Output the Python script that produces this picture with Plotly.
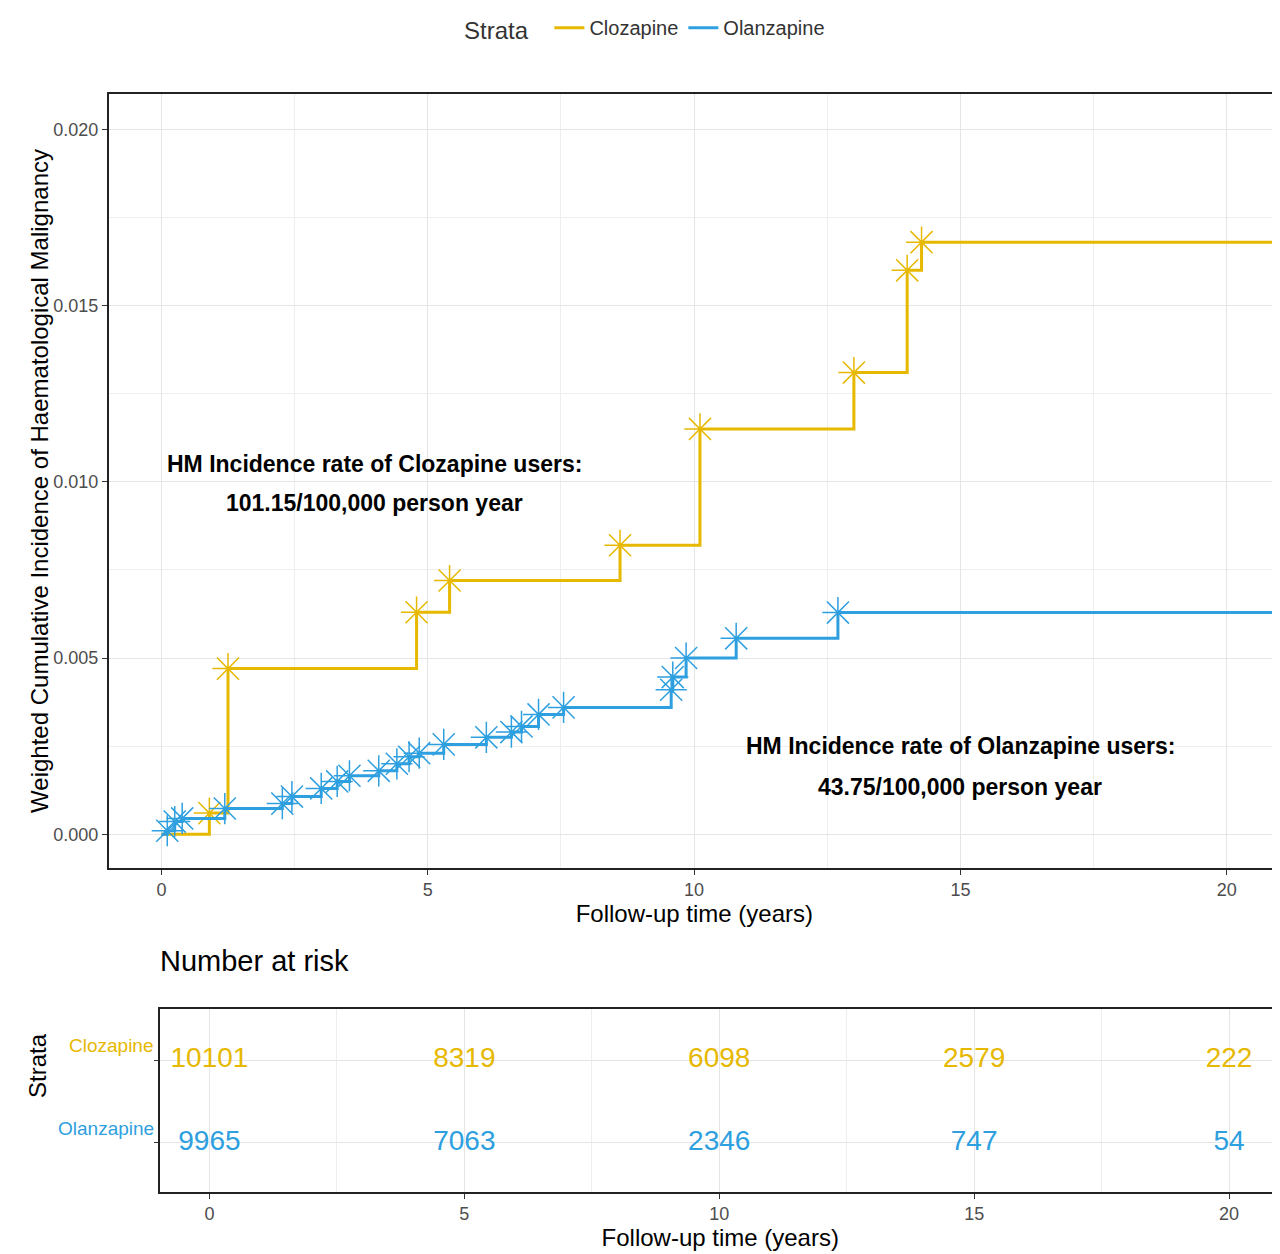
import plotly.graph_objects as go

cloz_t = [0, 0.9, 1.25, 4.79, 5.41, 8.61, 10.11, 13.0, 14.0, 14.27]
cloz_y = [0, 0.0006, 0.0047, 0.0063, 0.0072, 0.0082, 0.0115, 0.0131, 0.0160, 0.0168]
olan_t = [0, 0.11, 0.25, 0.39, 1.19, 2.27, 2.45, 3.0, 3.3, 3.53, 4.08, 4.42, 4.65, 4.84, 5.3,
          6.1, 6.57, 6.76, 7.08, 7.55, 9.57, 9.6, 9.85, 10.79, 12.7]
olan_y = [0, 0.0001, 0.00036, 0.00045, 0.00073, 0.00087, 0.00107, 0.0013, 0.0015, 0.00166, 0.0018,
          0.002, 0.0022, 0.0023, 0.00255, 0.00275, 0.0029, 0.00306, 0.0034, 0.0036, 0.0041,
          0.00446, 0.005, 0.00556, 0.00629]
t_end = 21
risk_times = [0, 5, 10, 15, 20]
risk_cloz = [10101, 8319, 6098, 2579, 222]
risk_olan = [9965, 7063, 2346, 747, 54]

YEL = "#E7B800"
BLU = "#2E9FDF"
FONT = "Liberation Sans"

fig = go.Figure()
for name, t, y, c in [("Clozapine", cloz_t, cloz_y, YEL), ("Olanzapine", olan_t, olan_y, BLU)]:
    fig.add_trace(go.Scatter(x=t + [t_end], y=y + [y[-1]], mode="lines", line=dict(color=c, width=3, shape="hv"),
                             name=name, xaxis="x", yaxis="y"))
    fig.add_trace(go.Scatter(x=t[1:], y=y[1:], mode="markers", showlegend=False,
                             marker=dict(symbol="asterisk-open", size=26, color=c, line=dict(color=c, width=1.5)),
                             xaxis="x", yaxis="y"))
fig.add_trace(go.Scatter(x=risk_times, y=[0.72]*5, mode="text", text=[str(v) for v in risk_cloz],
                         textfont=dict(color=YEL, size=28, family=FONT), showlegend=False, xaxis="x2", yaxis="y2"))
fig.add_trace(go.Scatter(x=risk_times, y=[0.27]*5, mode="text", text=[str(v) for v in risk_olan],
                         textfont=dict(color=BLU, size=28, family=FONT), showlegend=False, xaxis="x2", yaxis="y2"))

ax = dict(showline=True, mirror=True, linecolor="#222", linewidth=1.5, gridcolor="#E5E5E5", zeroline=False,
          ticks="outside", tickcolor="#333", automargin=False,
          tickfont=dict(size=18, color="#4D4D4D", family=FONT))
fig.update_layout(
    width=1280, height=1254, margin=dict(l=0, r=4, t=0, b=0), plot_bgcolor="white", paper_bgcolor="white",
    font=dict(family=FONT),
    xaxis=dict(ax, domain=[0.0789, 0.9969], range=[-0.99, 21.0], tickvals=[0, 5, 10, 15, 20],
               minor=dict(dtick=2.5, tick0=0, gridcolor="#EEEEEE", showgrid=True),
               title=dict(text="Follow-up time (years)", font=dict(size=24, color="black"), standoff=6)),
    yaxis=dict(ax, domain=[0.3182, 0.9426], range=[-0.00095, 0.021], tickvals=[0, 0.005, 0.01, 0.015, 0.02],
               ticktext=["0.000", "0.005", "0.010", "0.015", "0.020"],
               minor=dict(dtick=0.0025, tick0=0, gridcolor="#EEEEEE", showgrid=True)),
    xaxis2=dict(ax, anchor="y2", domain=[0.1195, 0.9969], range=[-0.96, 21.0], tickvals=[0, 5, 10, 15, 20],
                minor=dict(dtick=2.5, tick0=0, gridcolor="#EEEEEE", showgrid=True),
                title=dict(text="Follow-up time (years)", font=dict(size=24, color="black"), standoff=6)),
    yaxis2=dict(ax, anchor="x2", domain=[0.0566, 0.2041], range=[0, 1], tickvals=[0.27, 0.72],
                showticklabels=False),
    legend=dict(orientation="h", x=0.5, xanchor="center", y=1.012, yanchor="top", title=dict(text="Strata  "),
                font=dict(size=20, color="#333")),
)
anns = [
    dict(x=4.0, y=0.0105, xref="x", yref="y", text="<b>HM Incidence rate of Clozapine users:</b>"),
    dict(x=4.0, y=0.0094, xref="x", yref="y", text="<b>101.15/100,000 person year</b>"),
    dict(x=15.0, y=0.0025, xref="x", yref="y", text="<b>HM Incidence rate of Olanzapine users:</b>"),
    dict(x=15.0, y=0.00135, xref="x", yref="y", text="<b>43.75/100,000 person year</b>"),
]
for a in anns:
    fig.add_annotation(a, showarrow=False, font=dict(size=23, color="black", family=FONT))
fig.add_annotation(x=16/1280, y=1 - 463/1254, xref="paper", yref="paper", showarrow=False, textangle=-90,
                   text="Weighted Cumulative Incidence of Haematological Malignancy",
                   font=dict(size=24, color="black", family=FONT))
fig.add_annotation(x=0.116, y=1 - 1048/1254, xref="paper", yref="paper", text="Clozapine", showarrow=False,
                   xanchor="right", font=dict(size=19, color=YEL, family=FONT))
fig.add_annotation(x=0.116, y=1 - 1132/1254, xref="paper", yref="paper", text="Olanzapine", showarrow=False,
                   xanchor="right", font=dict(size=19, color=BLU, family=FONT))
fig.add_annotation(x=14/1280, y=1 - 1090/1254, xref="paper", yref="paper", text="Strata", showarrow=False,
                   textangle=-90, font=dict(size=24, color="black", family=FONT))
fig.add_annotation(x=150/1280, y=1 - 968/1254, xref="paper", yref="paper", text="Number at risk", showarrow=False,
                   xanchor="left", font=dict(size=29, color="black", family=FONT))
fig.write_html("out.html")
